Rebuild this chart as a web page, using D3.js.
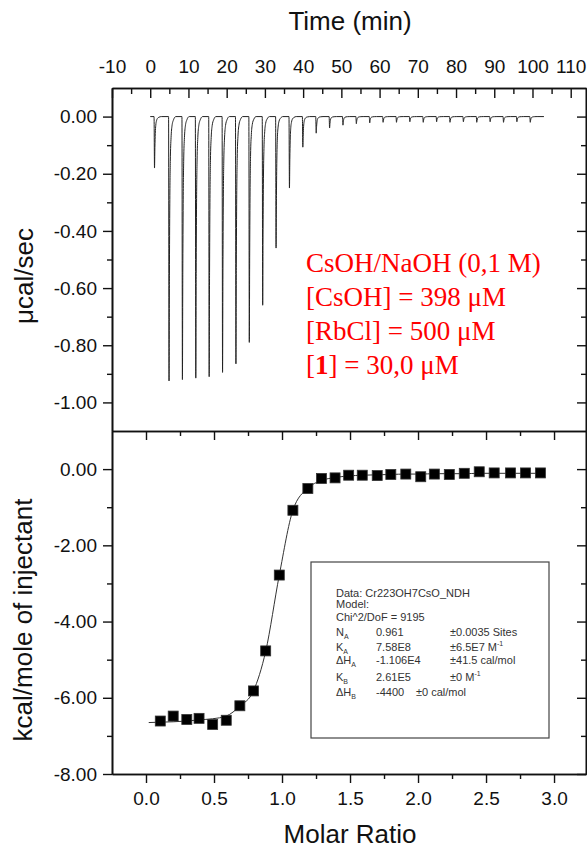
<!DOCTYPE html>
<html>
<head>
<meta charset="utf-8">
<script src="https://cdn.jsdelivr.net/npm/d3@7"></script>
<style>
  body { margin: 0; background: #fff; }
  svg { display: block; font-family: "Liberation Sans", Arial, sans-serif; }
  .axis path, .axis line { stroke: #111; }
  .axis text { font-size: 19px; fill: #111; }
</style>
</head>
<body>
<svg id="chart" width="587" height="851"></svg>
<script>
// --- raw thermogram (top panel) ---
const injectionTimes = [1.0, 4.8, 8.3, 11.8, 15.3, 18.8, 22.3, 25.8, 29.3, 32.8,
  36.3, 39.8, 43.3, 46.8, 50.3, 53.8, 57.3, 60.8, 64.3, 67.8, 71.3, 74.8, 78.3,
  81.8, 85.3, 88.8, 92.3, 95.8, 99.3];
const peakHeights = [-0.18, -0.925, -0.92, -0.915, -0.91, -0.895, -0.865, -0.79,
  -0.66, -0.46, -0.25, -0.107, -0.058, -0.04, -0.03, -0.025, -0.022, -0.02,
  -0.02, -0.018, -0.02, -0.018, -0.02, -0.018, -0.02, -0.018, -0.02, -0.018, -0.02];
// shape of one injection peak: [minutes after injection, fraction of peak height]
const peakShape = [[0, 0], [0.12, 1], [0.22, 0.6], [0.32, 0.33], [0.45, 0.17],
  [0.65, 0.08], [0.9, 0.035], [1.3, 0.012], [1.9, 0]];
const runStart = 0;
const runEnd = 103;

// --- integrated heats (bottom panel) ---
const molarRatio = [0.105, 0.20, 0.30, 0.39, 0.49, 0.59, 0.69, 0.79, 0.88, 0.98,
  1.08, 1.19, 1.29, 1.39, 1.49, 1.59, 1.70, 1.80, 1.91, 2.02, 2.12, 2.23, 2.34,
  2.45, 2.56, 2.68, 2.79, 2.90];
const heats = [-6.61, -6.48, -6.57, -6.54, -6.70, -6.59, -6.21, -5.82, -4.77, -2.78,
  -1.08, -0.51, -0.245, -0.23, -0.16, -0.16, -0.17, -0.14, -0.13, -0.20, -0.13,
  -0.14, -0.11, -0.07, -0.10, -0.10, -0.10, -0.10];
const fitX = [0.02, 0.105, 0.20, 0.30, 0.39, 0.49, 0.59, 0.69, 0.79, 0.88, 0.98,
  1.08, 1.19, 1.29, 1.39, 1.49, 1.59, 1.70, 1.80, 1.91, 2.02, 2.12, 2.23, 2.34,
  2.45, 2.56, 2.68, 2.79, 2.90];
const fitY = [-6.65, -6.64, -6.63, -6.61, -6.58, -6.55, -6.48, -6.22, -5.82, -4.78,
  -2.78, -1.08, -0.50, -0.30, -0.22, -0.18, -0.16, -0.15, -0.14, -0.13, -0.13,
  -0.12, -0.12, -0.12, -0.11, -0.11, -0.11, -0.11, -0.11];

// --- ticks ---
const timeTicks = [-10, 0, 10, 20, 30, 40, 50, 60, 70, 80, 90, 100, 110];
const timeMinor = [-5, 5, 15, 25, 35, 45, 55, 65, 75, 85, 95, 105];
const powerTicks = [0, -0.2, -0.4, -0.6, -0.8, -1.0];
const powerMinor = [-0.1, -0.3, -0.5, -0.7, -0.9];
const heatTicks = [0, -2, -4, -6, -8];
const heatMinor = [-1, -3, -5, -7];
const ratioTicks = [0, 0.5, 1.0, 1.5, 2.0, 2.5, 3.0];
const ratioMinor = [0.25, 0.75, 1.25, 1.75, 2.25, 2.75];

// --- annotations ---
const conditionLines = ["CsOH/NaOH (0,1 M)", "[CsOH] = 398 \u03bcM", "[RbCl] = 500 \u03bcM", "[1] = 30,0 \u03bcM"];
const fitHeader = ["Data: Cr223OH7CsO_NDH", "Model:", "Chi^2/DoF = 9195"];
const paramNames = ["N", "K", "\u0394H", "K", "\u0394H"];
const paramSubs = ["A", "A", "A", "B", "B"];
const paramValues = ["0.961", "7.58E8", "-1.106E4", "2.61E5", "-4400"];
const paramErrors = ["\u00b10.0035 Sites", "\u00b16.5E7 M", "\u00b141.5 cal/mol", "\u00b10 M", "\u00b10 cal/mol"];
const paramErrSup = ["", "-1", "", "-1", ""];

const svg = d3.select("#chart");

const left = 112, right = 586;
const topY0 = 88, topY1 = 431, botY0 = 431, botY1 = 774;

const xTime = d3.scaleLinear().domain([-10, 114]).range([left, right]);
const yPower = d3.scaleLinear().domain([-1.1, 0.1]).range([topY1, topY0]);
const xRatio = d3.scaleLinear().domain([-0.25, 3.235]).range([left, right]);
const yHeat = d3.scaleLinear().domain([-8, 1]).range([botY1, botY0]);

const f2 = d => d.toFixed(2);
const f1 = d => d.toFixed(1);

function addAxis(axis, tx, ty) {
  const g = svg.append("g")
    .attr("class", "axis")
    .attr("transform", `translate(${tx},${ty})`)
    .call(axis);
  g.select(".domain").attr("stroke-width", 1.6);
  g.selectAll(".tick line").attr("stroke-width", 1.4);
  return g;
}

// ===== top panel =====
addAxis(d3.axisTop(xTime).tickValues(timeTicks).tickFormat(d => d)
  .tickSizeInner(-10).tickSizeOuter(0).tickPadding(15), 0, topY0);
addAxis(d3.axisTop(xTime).tickValues(timeMinor).tickFormat("")
  .tickSizeInner(-6).tickSizeOuter(0), 0, topY0);
addAxis(d3.axisLeft(yPower).tickValues(powerTicks).tickFormat(f2)
  .tickSizeInner(9).tickSizeOuter(0).tickPadding(6), left, 0);
addAxis(d3.axisLeft(yPower).tickValues(powerMinor).tickFormat("")
  .tickSizeInner(5).tickSizeOuter(0), left, 0);
addAxis(d3.axisRight(yPower).tickValues(powerTicks).tickFormat("")
  .tickSizeInner(-9).tickSizeOuter(0), right, 0);
addAxis(d3.axisRight(yPower).tickValues(powerMinor).tickFormat("")
  .tickSizeInner(-5).tickSizeOuter(0), right, 0);

// thermogram trace built from the injection list
const trace = [[runStart, 0]];
injectionTimes.forEach((t, i) => {
  peakShape.forEach(p => trace.push([t + p[0], peakHeights[i] * p[1]]));
});
trace.push([runEnd, 0]);

svg.append("path")
  .datum(trace)
  .attr("fill", "none")
  .attr("stroke", "#222")
  .attr("stroke-width", 1)
  .attr("d", d3.line().x(d => xTime(d[0])).y(d => yPower(d[1])).curve(d3.curveMonotoneX));

// ===== bottom panel =====
addAxis(d3.axisBottom(xRatio).tickValues(ratioTicks).tickFormat(f1)
  .tickSizeInner(9).tickSizeOuter(0).tickPadding(9), 0, botY1);
addAxis(d3.axisBottom(xRatio).tickValues(ratioMinor).tickFormat("")
  .tickSizeInner(5).tickSizeOuter(0), 0, botY1);
addAxis(d3.axisTop(xRatio).tickValues(ratioTicks).tickFormat("")
  .tickSizeInner(-9).tickSizeOuter(0), 0, botY0);
addAxis(d3.axisTop(xRatio).tickValues(ratioMinor).tickFormat("")
  .tickSizeInner(-5).tickSizeOuter(0), 0, botY0);
addAxis(d3.axisLeft(yHeat).tickValues(heatTicks).tickFormat(f2)
  .tickSizeInner(9).tickSizeOuter(0).tickPadding(6), left, 0);
addAxis(d3.axisLeft(yHeat).tickValues(heatMinor).tickFormat("")
  .tickSizeInner(5).tickSizeOuter(0), left, 0);
addAxis(d3.axisRight(yHeat).tickValues(heatTicks).tickFormat("")
  .tickSizeInner(-9).tickSizeOuter(0), right, 0);
addAxis(d3.axisRight(yHeat).tickValues(heatMinor).tickFormat("")
  .tickSizeInner(-5).tickSizeOuter(0), right, 0);

svg.selectAll(".axis text").attr("font-size", 19);

// fit curve
svg.append("path")
  .datum(fitX.map((x, i) => [x, fitY[i]]))
  .attr("fill", "none")
  .attr("stroke", "#333")
  .attr("stroke-width", 1)
  .attr("d", d3.line().x(d => xRatio(d[0])).y(d => yHeat(d[1])).curve(d3.curveMonotoneX));

// measured heats
const sq = 10;
svg.append("g")
  .selectAll("rect")
  .data(molarRatio.map((x, i) => [x, heats[i]]))
  .enter()
  .append("rect")
  .attr("x", d => xRatio(d[0]) - sq / 2)
  .attr("y", d => yHeat(d[1]) - sq / 2)
  .attr("width", sq)
  .attr("height", sq)
  .attr("fill", "#000")
  .attr("stroke", "#333")
  .attr("stroke-width", 0.8);

// ===== titles =====
svg.append("text")
  .attr("x", 350).attr("y", 30)
  .attr("text-anchor", "middle")
  .attr("font-size", 26)
  .attr("fill", "#111")
  .text("Time (min)");

svg.append("text")
  .attr("x", 350).attr("y", 843)
  .attr("text-anchor", "middle")
  .attr("font-size", 26)
  .attr("fill", "#111")
  .text("Molar Ratio");

svg.append("text")
  .attr("transform", "translate(33,276) rotate(-90)")
  .attr("text-anchor", "middle")
  .attr("font-size", 26)
  .attr("fill", "#111")
  .text("\u03bccal/sec");

svg.append("text")
  .attr("transform", "translate(32,620) rotate(-90)")
  .attr("text-anchor", "middle")
  .attr("font-size", 26)
  .attr("fill", "#111")
  .text("kcal/mole of injectant");

// red experiment conditions
const cond = svg.append("g")
  .attr("font-family", "'Liberation Serif', 'Times New Roman', serif")
  .attr("font-size", 27)
  .attr("fill", "#ff0000");
conditionLines.forEach((s, i) => {
  const t = cond.append("text").attr("x", 306).attr("y", 272 + i * 34);
  if (s.startsWith("[1]")) {
    t.append("tspan").text("[");
    t.append("tspan").attr("font-weight", "bold").text("1");
    t.append("tspan").text(s.slice(2));
  } else {
    t.text(s);
  }
});

// fit result box
svg.append("rect")
  .attr("x", 311).attr("y", 562)
  .attr("width", 238).attr("height", 176)
  .attr("fill", "#fff")
  .attr("stroke", "#444")
  .attr("stroke-width", 1.2);

const box = svg.append("g").attr("font-size", 11).attr("fill", "#333");
const headerY = [597, 608, 621];
fitHeader.forEach((s, i) => {
  box.append("text").attr("x", 336).attr("y", headerY[i]).text(s);
});
const rowY = [636, 651, 664, 681, 696];
paramNames.forEach((name, i) => {
  const t = box.append("text").attr("x", 336).attr("y", rowY[i]);
  t.append("tspan").text(name);
  t.append("tspan").attr("font-size", 7).attr("dy", 3).text(paramSubs[i]);
  box.append("text").attr("x", 376).attr("y", rowY[i]).text(paramValues[i]);
  const ex = i === 4 ? 416 : 450;
  const e = box.append("text").attr("x", ex).attr("y", rowY[i]);
  e.append("tspan").text(paramErrors[i]);
  if (paramErrSup[i]) {
    e.append("tspan").attr("font-size", 7).attr("dy", -5).text(paramErrSup[i]);
  }
});
</script>
</body>
</html>
